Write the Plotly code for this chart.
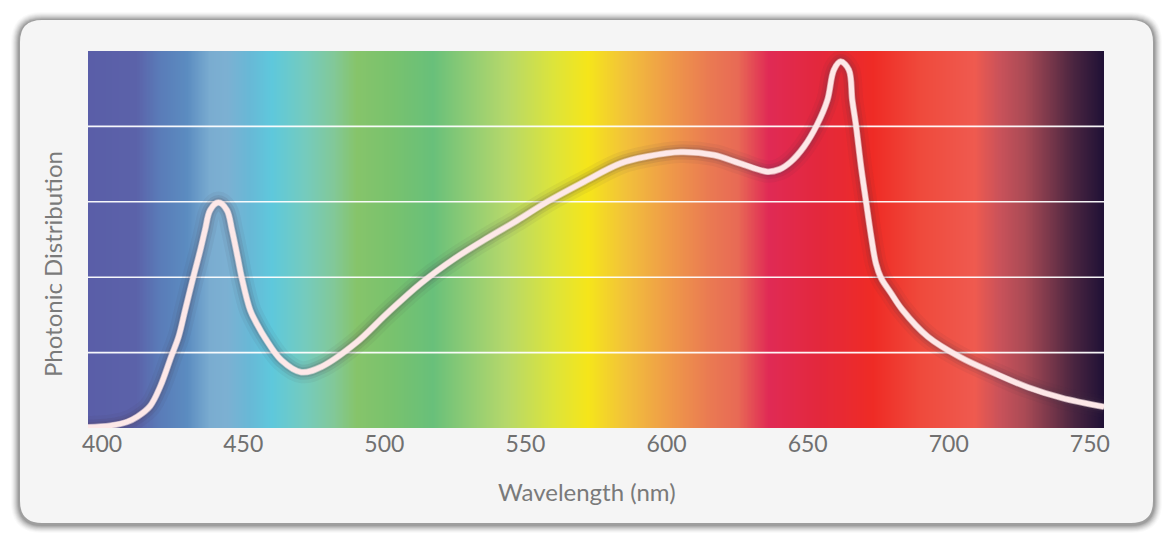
import numpy as np
import plotly.graph_objects as go

# ---- data ----
wavelength = [395, 402.8, 408.8, 412.5, 417, 420.6, 424.5, 427.1, 429.4, 432.1, 434.8,
              436.5, 438.3, 441.2, 444.2, 446, 448, 449.5, 452.5, 455, 457.8, 463.5,
              470.6, 477.6, 490, 501, 513, 525, 537, 547, 557.7, 570, 583.7, 593.1,
              605, 616.7, 626, 635.8, 640, 644, 648.7, 653.3, 657, 659.3, 661.7, 664.6,
              665.8, 667.1, 668.9, 670.7, 672.5, 674.2, 676, 679.5, 683.5, 692.6, 704,
              716, 728, 740, 755]
photonic = [0.01, 0.03, 0.08, 0.15, 0.29, 0.55, 0.95, 1.21, 1.56, 1.97, 2.36,
            2.63, 2.89, 2.99, 2.89, 2.63, 2.27, 1.99, 1.56, 1.37, 1.19, 0.9,
            0.74, 0.81, 1.13, 1.52, 1.92, 2.25, 2.53, 2.75, 3.0, 3.25, 3.51, 3.6,
            3.66, 3.62, 3.51, 3.40, 3.43, 3.53, 3.73, 4.02, 4.35, 4.75, 4.86, 4.75,
            4.35, 4.02, 3.47, 3.0, 2.54, 2.18, 1.99, 1.79, 1.57, 1.21, 0.94,
            0.73, 0.54, 0.40, 0.28]

x_ticks = [400, 450, 500, 550, 600, 650, 700, 750]
grid_levels = [1, 2, 3, 4]

spectrum_stops = [
    (395, "#5a5ea8"), (412, "#5b62a9"), (420, "#5a7bb8"), (430, "#5b8cc0"),
    (438, "#7aacd0"), (444, "#7cb0d2"), (452, "#68b8d6"), (460, "#5ec8dc"),
    (472, "#75cbbd"), (482, "#82c898"), (490, "#86c46a"), (503, "#78c26e"),
    (517, "#68c07a"), (530, "#90cc74"), (543, "#b5d86a"), (560, "#dde43a"),
    (572, "#f5e51a"), (585, "#f2c23a"), (600, "#ef9c48"), (615, "#ea7a52"),
    (625, "#e86a55"), (636, "#e02a55"), (654, "#e3283c"), (673, "#ef2b25"),
    (690, "#ef4a3c"), (709, "#ef5a4f"), (718, "#c9525a"), (727, "#a94a55"),
    (744, "#4a2540"), (755, "#1e1035"),
]

X_MIN, X_MAX = 395, 755
Y_MIN, Y_MAX = 0, 5

# ---- geometry (page pixels; page body has an 8px margin) ----
PAGE_W, PAGE_H = 1171, 544
OFF = 8
W, H = PAGE_W - OFF, PAGE_H - OFF
L, R, T, B = 88, 1104, 51, 428   # plot area in page pixels


def px(x):
    return (x - L) / (R - L)


def py(y):
    return (B - y) / (B - T)


def rrect(x0, y0, x1, y1, r):
    def p(x, y):
        return f"{px(x):.5f},{py(y):.5f}"
    return (f"M {p(x0+r, y0)} L {p(x1-r, y0)} Q {p(x1, y0)} {p(x1, y0+r)} "
            f"L {p(x1, y1-r)} Q {p(x1, y1)} {p(x1-r, y1)} L {p(x0+r, y1)} "
            f"Q {p(x0, y1)} {p(x0, y1-r)} L {p(x0, y0+r)} Q {p(x0, y0)} {p(x0+r, y0)} Z")


fig = go.Figure()

# spectrum background
lo, hi = spectrum_stops[0][0], spectrum_stops[-1][0]
colorscale = [[(w - lo) / (hi - lo), c] for w, c in spectrum_stops]
bg_x = np.linspace(X_MIN, X_MAX, 721)
fig.add_trace(go.Heatmap(
    x=bg_x, y=[Y_MIN, Y_MAX], z=[bg_x, bg_x],
    colorscale=colorscale, zmin=lo, zmax=hi, showscale=False,
    zsmooth="best", hoverinfo="skip"))

# gridlines (white) drawn over the spectrum
for g in grid_levels:
    fig.add_trace(go.Scatter(x=[X_MIN, X_MAX], y=[g, g], mode="lines",
                             line=dict(color="rgba(255,255,255,0.95)", width=1.6),
                             hoverinfo="skip", showlegend=False))

# curve with glow
for width, color in [(22, "rgba(70,50,70,0.06)"), (15, "rgba(70,50,70,0.10)"),
                     (10, "rgba(90,70,90,0.16)"), (6.5, "rgba(255,235,235,0.6)"),
                     (5, "#fde8e8")]:
    fig.add_trace(go.Scatter(x=wavelength, y=photonic, mode="lines",
                             line=dict(color=color, width=width, shape="spline", smoothing=1.0),
                             hoverinfo="skip", showlegend=False))

# card with shadow
shapes = []
for i, a in enumerate([0.025, 0.035, 0.05, 0.065, 0.08, 0.10, 0.12, 0.15]):
    s = 9 - i
    shapes.append(dict(type="path", xref="paper", yref="paper",
                       path=rrect(20 - s, 20 - s + 1, 1153 + s, 523 + s + 1, 22 + s),
                       fillcolor=f"rgba(60,60,60,{a})", line=dict(width=0), layer="below"))
shapes.append(dict(type="path", xref="paper", yref="paper",
                   path=rrect(20, 20, 1153, 523, 22),
                   fillcolor="#f5f5f5", line=dict(width=0), layer="below"))

font_family = "Lato, 'Noto Sans', sans-serif"

fig.update_layout(
    width=W, height=H,
    margin=dict(l=L - OFF, r=PAGE_W - R, t=T - OFF, b=PAGE_H - B),
    paper_bgcolor="#ffffff",
    plot_bgcolor="rgba(0,0,0,0)",
    showlegend=False,
    shapes=shapes,
    xaxis=dict(range=[X_MIN, X_MAX], tickvals=x_ticks, ticktext=[str(t) for t in x_ticks],
               showgrid=False, zeroline=False, showline=False, ticks="",
               tickfont=dict(family=font_family, size=23, color="#707070"),
               fixedrange=True),
    yaxis=dict(range=[Y_MIN, Y_MAX], showgrid=False, zeroline=False, showline=False,
               showticklabels=False, ticks="", fixedrange=True),
    annotations=[
        dict(text="Wavelength (nm)", xref="paper", yref="paper",
             x=px(587), y=py(491), xanchor="center", yanchor="middle", showarrow=False,
             font=dict(family=font_family, size=24, color="#7a7a7a")),
        dict(text="Photonic Distribution", xref="paper", yref="paper",
             x=px(52), y=py(264), xanchor="center", yanchor="middle", showarrow=False,
             textangle=-90,
             font=dict(family=font_family, size=24, color="#7a7a7a")),
    ],
)

fig.write_html("out.html")
